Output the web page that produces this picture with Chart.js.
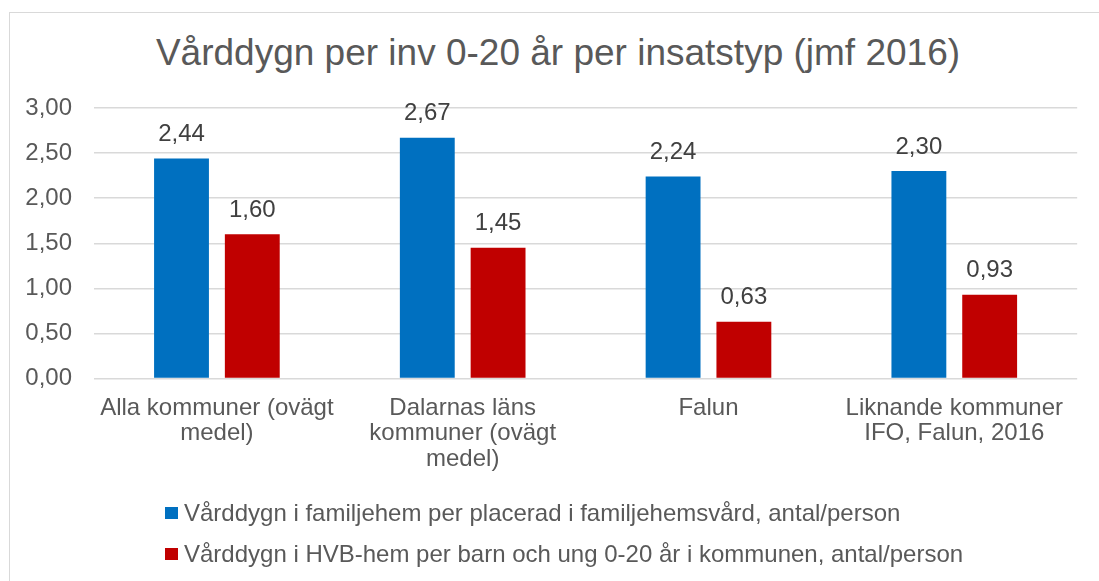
<!DOCTYPE html>
<html lang="sv">
<head>
<meta charset="utf-8">
<title>Vårddygn per inv 0-20 år per insatstyp</title>
<script src="https://cdn.jsdelivr.net/npm/chart.js@4/dist/chart.umd.min.js"></script>
<style>
    html, body { margin: 0; padding: 0; background: #fff; }
    body { width: 1099px; height: 581px; position: relative; overflow: hidden; font-family: "Liberation Sans", Arial, sans-serif; }
    #frame { position: absolute; left: 9px; top: 12px; width: 1200px; height: 700px; border: 1.5px solid #d9d9d9; box-sizing: border-box; }
    #title { position: absolute; left: 0; top: 31px; width: 1116px; text-align: center; font-size: 37px; line-height: 44px; color: #595959; white-space: nowrap; }
    #wrap { position: absolute; left: 0; top: 0; width: 1080px; height: 581px; }
    #legend { position: absolute; left: 165px; top: 492px; color: #595959; font-size: 24px; }
    #legend .item { height: 41.5px; display: flex; align-items: center; white-space: nowrap; }
    #legend .box { width: 13px; height: 12px; margin-right: 6px; flex: none; }
</style>
</head>
<body>
<div id="frame"></div>
<div id="title">Vårddygn per inv 0-20 år per insatstyp (jmf 2016)</div>
<div id="wrap"><canvas id="chart"></canvas></div>
<div id="legend"></div>

<script>
// Chart data
const categories = [
    ['Alla kommuner (ovägt', 'medel)'],
    ['Dalarnas läns', 'kommuner (ovägt', 'medel)'],
    'Falun',
    ['Liknande kommuner', 'IFO, Falun, 2016']
];
const familjehemValues = [2.44, 2.67, 2.24, 2.30];
const hvbValues = [1.60, 1.45, 0.63, 0.93];
const seriesLabels = [
    'Vårddygn i familjehem per placerad i familjehemsvård, antal/person',
    'Vårddygn i HVB-hem per barn och ung 0-20 år i kommunen, antal/person'
];
const seriesColors = ['#0070c0', '#c00000'];

const fontFamily = '"Liberation Sans", Arial, sans-serif';

function formatValue(v) {
    return v.toFixed(2).replace('.', ',');
}

// Value labels above bars
const valueLabels = {
    id: 'valueLabels',
    afterDatasetsDraw(chart) {
        const ctx = chart.ctx;
        ctx.save();
        ctx.font = '24px ' + fontFamily;
        ctx.fillStyle = '#404040';
        ctx.textAlign = 'center';
        ctx.textBaseline = 'middle';
        chart.data.datasets.forEach((ds, i) => {
            chart.getDatasetMeta(i).data.forEach((bar, j) => {
                ctx.fillText(formatValue(ds.data[j]), bar.x, bar.y - 24);
            });
        });
        ctx.restore();
    }
};

function initializeChart() {
    const ctx = document.getElementById('chart').getContext('2d');
    new Chart(ctx, {
        type: 'bar',
        data: {
            labels: categories,
            datasets: [
                { label: seriesLabels[0], data: familjehemValues, backgroundColor: seriesColors[0] },
                { label: seriesLabels[1], data: hvbValues, backgroundColor: seriesColors[1] }
            ]
        },
        options: {
            responsive: true,
            maintainAspectRatio: false,
            animation: false,
            categoryPercentage: 0.576,
            barPercentage: 0.775,
            layout: { padding: { left: 10, right: 0, top: 108, bottom: 92 } },
            plugins: {
                legend: { display: false },
                tooltip: { enabled: false }
            },
            scales: {
                x: {
                    grid: { display: false, drawTicks: false },
                    border: { display: false },
                    ticks: {
                        color: '#595959',
                        font: { family: fontFamily, size: 24, lineHeight: 25.5 / 24 },
                        padding: 17,
                        maxRotation: 0,
                        autoSkip: false
                    }
                },
                y: {
                    min: 0,
                    max: 3,
                    afterFit(scale) { scale.width = 84; },
                    grid: { color: '#d9d9d9', lineWidth: 1.5, drawTicks: false },
                    border: { display: false },
                    ticks: {
                        stepSize: 0.5,
                        color: '#595959',
                        font: { family: fontFamily, size: 24 },
                        padding: 22,
                        callback: v => formatValue(v)
                    }
                }
            }
        },
        plugins: [valueLabels]
    });
}

// Legend below the chart
function initializeLegend() {
    const legend = document.getElementById('legend');
    seriesLabels.forEach((label, i) => {
        const item = document.createElement('div');
        item.className = 'item';
        item.innerHTML = `<span class="box" style="background:${seriesColors[i]}"></span><span>${label}</span>`;
        legend.appendChild(item);
    });
}

initializeChart();
initializeLegend();
</script>
</body>
</html>
